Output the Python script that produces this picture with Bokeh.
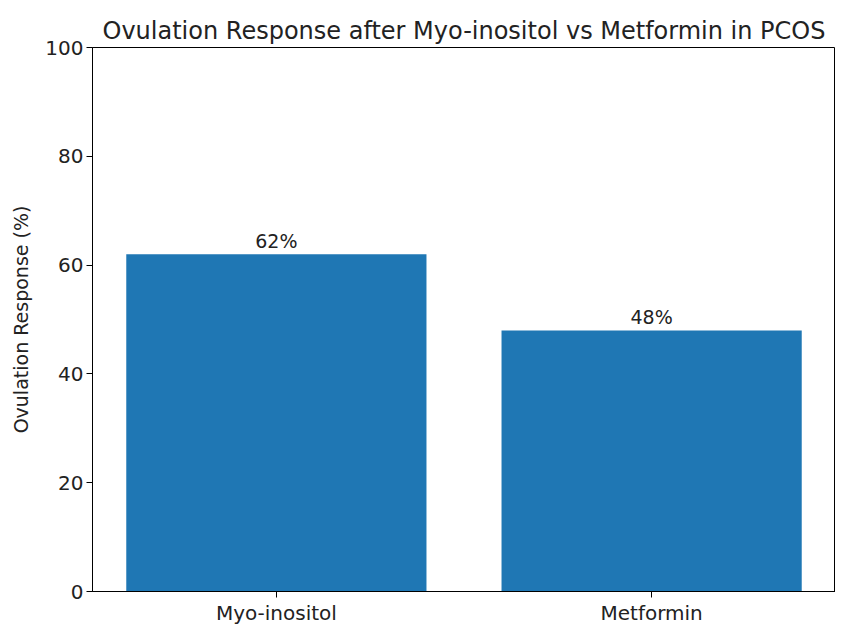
from bokeh.plotting import figure
from bokeh.models import ColumnDataSource, Range1d, FixedTicker, LabelSet
from bokeh.core.properties import value
from bokeh.embed import file_html
from bokeh.resources import INLINE

treatments = ["Myo-inositol", "Metformin"]
response = [62, 48]
labels = ["62%", "48%"]
yticks = [0, 20, 40, 60, 80, 100]

FONT = "DejaVu Sans"
TXT = "#222222"
xs = list(range(len(treatments)))
src = ColumnDataSource(dict(x=xs, top=response, lab=labels))

p = figure(width=835, height=627, output_backend="svg", toolbar_location=None,
           x_range=Range1d(-0.49, len(treatments) - 1 + 0.49), y_range=Range1d(0, 100),
           min_border_left=92, min_border_right=0, min_border_top=47, min_border_bottom=0)

p.vbar(x="x", top="top", width=0.8, source=src, fill_color="#1f77b4", line_color=None)
p.add_layout(LabelSet(x="x", y="top", text="lab", source=src, text_align="center",
                      text_baseline="bottom", y_offset=2, text_font=value(FONT),
                      text_font_size="19px", text_color=TXT))

p.title.text = "Ovulation Response after Myo-inositol vs Metformin in PCOS"
p.title.align = "center"
p.title.text_font = FONT
p.title.text_font_size = "24px"
p.title.text_font_style = "normal"
p.title.text_color = TXT
p.title.standoff = 6

p.xgrid.visible = False
p.ygrid.visible = False
p.outline_line_color = "black"
p.outline_line_width = 1

p.xaxis.ticker = FixedTicker(ticks=xs)
p.xaxis.major_label_overrides = {i: t for i, t in enumerate(treatments)}
p.yaxis.ticker = FixedTicker(ticks=yticks)
p.yaxis.axis_label = "Ovulation Response (%)"
for ax in (p.xaxis, p.yaxis):
    ax.minor_tick_line_color = None
    ax.major_tick_out = 6
    ax.major_tick_in = 0
    ax.axis_line_color = "black"
    ax.major_tick_line_color = "black"
    ax.major_label_text_font = FONT
    ax.major_label_text_font_size = "20px"
    ax.major_label_text_color = TXT
    ax.major_label_standoff = 3
p.yaxis.axis_label_text_font = FONT
p.yaxis.axis_label_text_font_size = "19px"
p.yaxis.axis_label_text_font_style = "normal"
p.yaxis.axis_label_text_color = TXT
p.yaxis.axis_label_standoff = 10

open("out.html", "w").write(file_html(p, INLINE))
